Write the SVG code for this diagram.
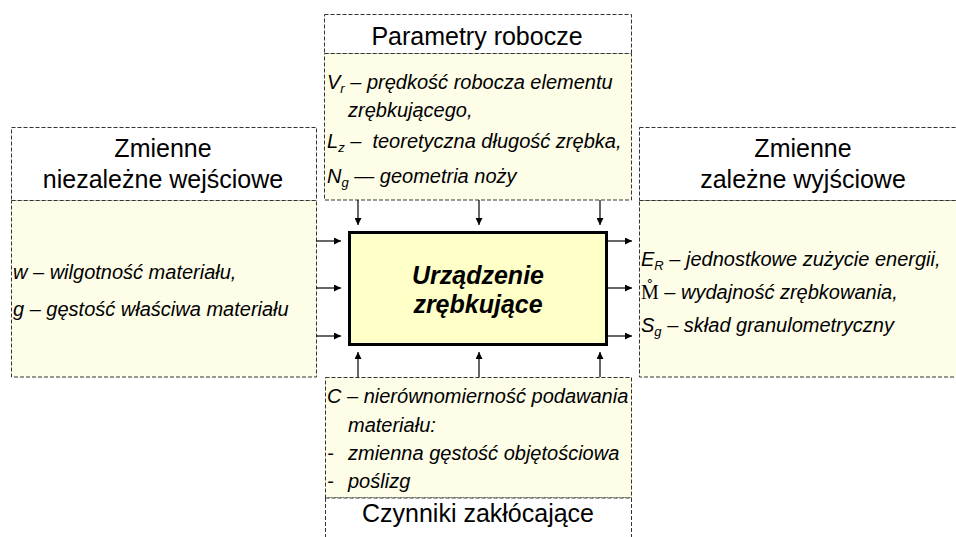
<svg xmlns="http://www.w3.org/2000/svg" width="956" height="537" viewBox="0 0 956 537">
<style>
.bg{fill:#ffffff}
.hbox{fill:#ffffff;stroke:#333333;stroke-width:1;stroke-dasharray:4 2}
.bbox{fill:#fdfde8;stroke:#333333;stroke-width:1;stroke-dasharray:4 2}
.hdr{font-family:"Liberation Sans",Arial,sans-serif;font-size:25px;fill:#000;text-anchor:middle}
.txt{font-family:"Liberation Sans",Arial,sans-serif;font-size:20px;font-style:italic;fill:#000}
.serif{font-family:"Liberation Serif","Times New Roman",serif;font-style:normal}
.sub{font-size:13px}
.main{font-family:"Liberation Sans",Arial,sans-serif;font-size:25px;font-weight:bold;font-style:italic;fill:#000;text-anchor:middle}
.conn{stroke:#000;stroke-width:1.2;fill:none;marker-end:url(#ah)}
</style>
<defs>
<marker id="ah" viewBox="0 0 10 10" refX="10" refY="5" markerWidth="7" markerHeight="7" markerUnits="userSpaceOnUse" orient="auto">
<path d="M0,0 L10,5 L0,10 z" fill="#000"/>
</marker>
</defs>
<rect class="bg" x="0" y="0" width="956" height="537"/>

<g id="parametry">
<rect class="hbox" x="324.5" y="14.5" width="307" height="39"/>
<rect class="bbox" x="324.5" y="53.5" width="307" height="146.5"/>
<text class="hdr" x="477" y="45">Parametry robocze</text>
<text class="txt" x="327" y="89">V<tspan class="sub" dy="4">r</tspan><tspan dy="-4"> – prędkość robocza elementu</tspan></text>
<text class="txt" x="348" y="117">zrębkującego,</text>
<text class="txt" x="327" y="148" xml:space="preserve">L<tspan class="sub" dy="4">z</tspan><tspan dy="-4"> –  teoretyczna długość zrębka,</tspan></text>
<text class="txt" x="327" y="183">N<tspan class="sub" dy="4">g</tspan><tspan dy="-4"> — geometria noży</tspan></text>
</g>

<g id="wejscie">
<rect class="hbox" x="11.5" y="127.5" width="305" height="73"/>
<rect class="bbox" x="11.5" y="200.5" width="305" height="176.5"/>
<text class="hdr" x="163" y="157">Zmienne</text>
<text class="hdr" x="163" y="188">niezależne wejściowe</text>
<text class="txt" x="13" y="279">w – wilgotność materiału,</text>
<text class="txt" x="13" y="316">g – gęstość właściwa materiału</text>
</g>

<g id="wyjscie">
<rect class="hbox" x="639.5" y="127.5" width="330" height="73"/>
<rect class="bbox" x="639.5" y="200.5" width="330" height="176.5"/>
<text class="hdr" x="803" y="157">Zmienne</text>
<text class="hdr" x="803" y="188">zależne wyjściowe</text>
<text class="txt" x="641" y="266">E<tspan class="sub" dy="4">R</tspan><tspan dy="-4"> – jednostkowe zużycie energii,</tspan></text>
<text class="txt" x="641" y="299"><tspan class="serif">M</tspan><tspan class="serif" dx="-12.2" dy="-5">˚</tspan><tspan dx="5.5" dy="5"> – wydajność zrębkowania,</tspan></text>
<text class="txt" x="641" y="332">S<tspan class="sub" dy="4">g</tspan><tspan dy="-4"> – skład granulometryczny</tspan></text>
</g>

<g id="zaklocenia">
<rect class="bbox" x="325.5" y="377.5" width="306" height="120.5"/>
<rect class="hbox" x="325.5" y="498" width="306" height="50"/>
<text class="txt" x="327" y="403">C – nierównomierność podawania</text>
<text class="txt" x="348" y="432">materiału:</text>
<text class="txt" x="327" y="460">-</text>
<text class="txt" x="348" y="460">zmienna gęstość objętościowa</text>
<text class="txt" x="327" y="488">-</text>
<text class="txt" x="348" y="488">poślizg</text>
<text class="hdr" x="478" y="522">Czynniki zakłócające</text>
</g>

<g id="urzadzenie">
<rect x="349.5" y="232.5" width="257" height="112" fill="#ffffc8" stroke="#000" stroke-width="3"/>
<text class="main" x="478" y="284">Urządzenie</text>
<text class="main" x="478" y="313">zrębkujące</text>
</g>

<g id="connectors">
<line class="conn" x1="358" y1="200" x2="358" y2="225"/>
<line class="conn" x1="479" y1="200" x2="479" y2="225"/>
<line class="conn" x1="600" y1="200" x2="600" y2="225"/>
<line class="conn" x1="358" y1="377" x2="358" y2="352"/>
<line class="conn" x1="479" y1="377" x2="479" y2="352"/>
<line class="conn" x1="600" y1="377" x2="600" y2="352"/>
<line class="conn" x1="316" y1="241" x2="341" y2="241"/>
<line class="conn" x1="316" y1="288" x2="341" y2="288"/>
<line class="conn" x1="316" y1="336" x2="341" y2="336"/>
<line class="conn" x1="607" y1="241" x2="632" y2="241"/>
<line class="conn" x1="607" y1="288" x2="632" y2="288"/>
<line class="conn" x1="607" y1="336" x2="632" y2="336"/>
</g>
</svg>
